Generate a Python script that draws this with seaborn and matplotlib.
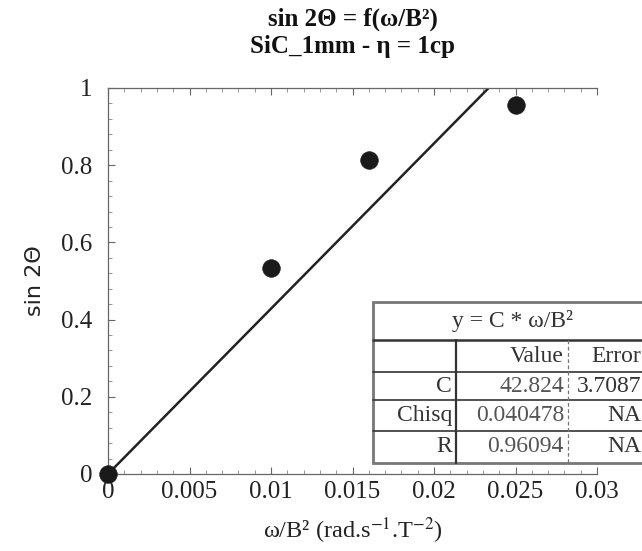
import matplotlib
matplotlib.use("Agg")
import matplotlib.pyplot as plt
import matplotlib.ticker as mticker
from matplotlib.patches import Rectangle
from matplotlib.lines import Line2D
import seaborn as sns
import pandas as pd
import numpy as np

# ---- data ----
x_vals = [0.0, 0.010, 0.016, 0.025]
y_vals = [0.0, 0.534, 0.813, 0.955]
fit_C = 42.824
fit_x = [0.0, 0.03]
table_rows = ["C", "Chisq", "R"]
table_values = ["42.824", "0.040478", "0.96094"]
table_errors = ["3.7087", "NA", "NA"]
table_header = ["Value", "Error"]
x_ticks = [0, 0.005, 0.01, 0.015, 0.02, 0.025, 0.03]
x_ticklabels = ["0", "0.005", "0.01", "0.015", "0.02", "0.025", "0.03"]
y_ticks = [0, 0.2, 0.4, 0.6, 0.8, 1.0]
y_ticklabels = ["0", "0.2", "0.4", "0.6", "0.8", "1"]

sns.set_theme(style="white")
plt.rcParams["font.family"] = ["Liberation Serif", "DejaVu Serif"]
plt.rcParams["mathtext.fontset"] = "stix"

W, H = 642, 551
fig = plt.figure(figsize=(W / 100, H / 100), dpi=100)
L, R, T, B = 108, 597, 88, 474
ax = fig.add_axes([L / W, 1 - B / H, (R - L) / W, (B - T) / H])

df = pd.DataFrame({"x": x_vals, "y": y_vals})
fit_df = pd.DataFrame({"x": fit_x, "y": [fit_C * v for v in fit_x]})

sns.lineplot(data=fit_df, x="x", y="y", ax=ax, color="#222222", lw=1.8)
sns.scatterplot(data=df, x="x", y="y", ax=ax, color="#1a1a1a", s=160,
                edgecolor="#1a1a1a", linewidth=0.5, clip_on=False, zorder=5)

ax.set_xlim(0, 0.03)
ax.set_ylim(0, 1)
ax.set_xticks(x_ticks)
ax.set_xticklabels(x_ticklabels)
ax.set_yticks(y_ticks)
ax.set_yticklabels(y_ticklabels)
ax.xaxis.set_minor_locator(mticker.MultipleLocator(0.001))
ax.yaxis.set_minor_locator(mticker.MultipleLocator(0.04))
ax.tick_params(axis="both", which="major", direction="in", length=5, width=0.8,
               colors="#666666", labelcolor="#222222", labelsize=18)
ax.tick_params(axis="x", which="major", pad=5)
ax.tick_params(axis="y", which="major", pad=11)
ax.tick_params(axis="both", which="minor", direction="in", length=3, width=0.6,
               colors="#888888")
ax.tick_params(axis="x", which="both", top=True, bottom=True)
ax.tick_params(axis="y", which="both", left=True)

for s in ["left", "bottom", "top"]:
    ax.spines[s].set_color("#666666")
    ax.spines[s].set_linewidth(0.9)
    ax.spines[s].set_visible(True)
ax.spines["right"].set_visible(False)

ax.set_xlabel(r"ω/B² (rad.s$^{-1}$.T$^{-2}$)", fontsize=17.5, color="#222222", labelpad=9)
ax.set_ylabel("sin 2Θ", fontsize=16, color="#222222", family=["DejaVu Sans"], labelpad=12)
ax.set_title("sin 2Θ = f(ω/B²)\nSiC_1mm - η = 1cp", fontsize=18, fontweight="bold",
             color="#111111", pad=25, linespacing=1.25)


# ---- fit results table (figure pixel coordinates) ----
def fx(x):
    return x / W


def fy(y):
    return 1 - y / H


tl, tr = 373, 700
row_y = [302, 340, 372, 400, 431, 463]
col_a, col_b = 456, 568

fig.add_artist(Rectangle((fx(tl), fy(row_y[-1])), fx(tr) - fx(tl), fy(row_y[0]) - fy(row_y[-1]),
                         transform=fig.transFigure, facecolor="white",
                         edgecolor="#777777", lw=2.0, zorder=10))
for yy in row_y[1:-1]:
    fig.add_artist(Line2D([fx(tl), fx(tr)], [fy(yy), fy(yy)], transform=fig.transFigure,
                          color="#333333", lw=1.2 if yy != row_y[1] else 1.8, zorder=11))
fig.add_artist(Line2D([fx(col_a), fx(col_a)], [fy(row_y[1]), fy(row_y[-1])],
                      transform=fig.transFigure, color="#333333", lw=1.6, zorder=11))
fig.add_artist(Line2D([fx(col_b), fx(col_b)], [fy(row_y[1]), fy(row_y[-1])],
                      transform=fig.transFigure, color="#777777", lw=0.9, ls=(0, (3, 2)), zorder=11))

tsize = 17
fig.text(fx(512), fy((row_y[0] + row_y[1]) / 2), "y = C * ω/B²", ha="center", va="center",
         fontsize=tsize, color="#333333", zorder=12)
fig.text(fx(col_b - 4), fy((row_y[1] + row_y[2]) / 2), table_header[0], ha="right",
         va="center", fontsize=tsize, color="#333333", zorder=12)
fig.text(fx(641), fy((row_y[1] + row_y[2]) / 2), table_header[1], ha="right",
         va="center", fontsize=tsize, color="#333333", zorder=12)
for i, (rn, v, e) in enumerate(zip(table_rows, table_values, table_errors)):
    yc = fy((row_y[i + 2] + row_y[i + 3]) / 2)
    fig.text(fx(col_a - 4), yc, rn, ha="right", va="center", fontsize=tsize,
             color="#333333", zorder=12)
    fig.text(fx(col_b - 4), yc, v, ha="right", va="center", fontsize=tsize,
             color="#555555", zorder=12)
    fig.text(fx(641), yc, e, ha="right", va="center", fontsize=tsize,
             color="#333333", zorder=12)

fig.savefig("out.png", dpi=100, facecolor="white")
